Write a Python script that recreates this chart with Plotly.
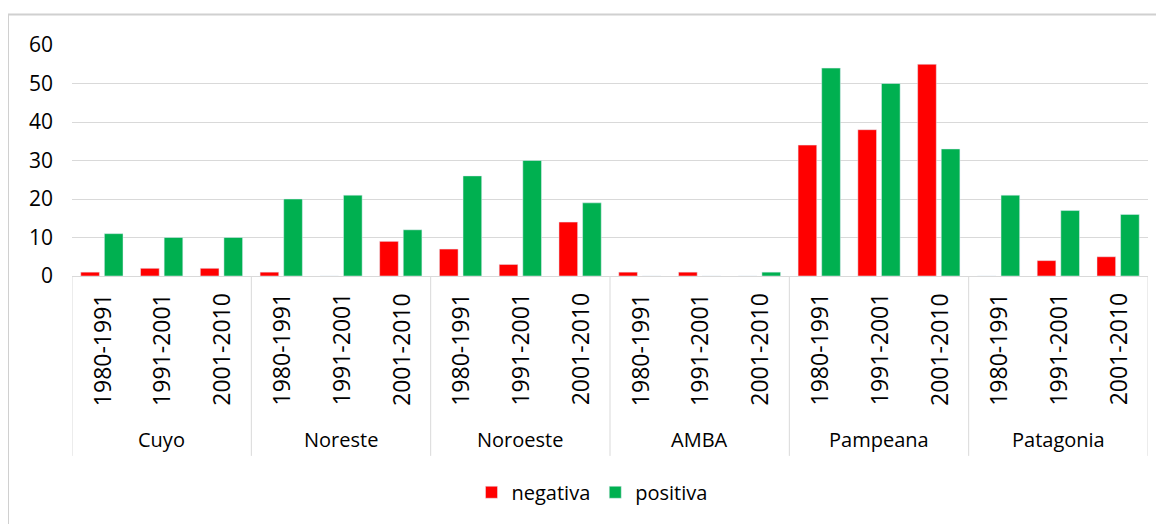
import plotly.graph_objects as go

regions = ["Cuyo", "Noreste", "Noroeste", "AMBA", "Pampeana", "Patagonia"]
periods = ["1980-1991", "1991-2001", "2001-2010"]

negativa = [1, 2, 2, 1, 0, 9, 7, 3, 14, 1, 1, 0, 34, 38, 55, 0, 4, 5]
positiva = [11, 10, 10, 20, 21, 12, 26, 30, 19, 0, 0, 1, 54, 50, 33, 21, 17, 16]

RED = "#FF0000"
GREEN = "#00B050"
GRID = "#D9D9D9"
FONT = "Open Sans"

# page body has an 8px margin, so the figure is drawn 8px smaller and offset
OFF = 8
W, H = 1164 - OFF, 532 - 2 * OFF
L, R, T, B = 72 - OFF, 16, 45 - OFF, H - (280 - OFF)
plot_w = W - L - R
plot_h = H - T - B


def px_x(p):
    # reference pixel -> paper x
    return (p - OFF - L) / plot_w


def px_y(p):
    # reference pixel -> paper y
    return (H - B - (p - OFF)) / plot_h


keys = [f"{r} {p}" for r in regions for p in periods]

fig = go.Figure()
fig.add_trace(go.Bar(x=keys, y=negativa, name="negativa", marker_color=RED))
fig.add_trace(go.Bar(x=keys, y=positiva, name="positiva", marker_color=GREEN))

# rotated period labels
for r in regions:
    for p in periods:
        fig.add_annotation(
            x=f"{r} {p}", xref="x", y=px_y(295), yref="paper",
            text=p, textangle=-90, showarrow=False,
            xanchor="center", yanchor="top",
            font=dict(family=FONT, size=23, color="black"),
        )

# region labels and dividers
n = len(periods)
for i, r in enumerate(regions):
    fig.add_annotation(
        x=i * n + (n - 1) / 2, xref="x", y=px_y(446), yref="paper",
        text=r, showarrow=False, xanchor="center", yanchor="middle",
        font=dict(family=FONT, size=20, color="black"),
    )
for i in range(len(regions) + 1):
    fig.add_shape(
        type="line", xref="x", yref="paper",
        x0=i * n - 0.5, x1=i * n - 0.5, y0=0, y1=px_y(463),
        line=dict(color=GRID, width=1),
    )

# chart frame (left and top edges)
fig.add_shape(
    type="rect", xref="paper", yref="paper",
    x0=px_x(8), x1=px_x(1180), y0=px_y(14), y1=px_y(560),
    line=dict(color="#D0D0D0", width=2), layer="below",
)

fig.update_layout(
    width=W, height=H,
    margin=dict(l=L, r=R, t=T, b=B),
    paper_bgcolor="white", plot_bgcolor="white",
    barmode="group", bargap=0.21, bargroupgap=0.21,
    font=dict(family=FONT, size=20, color="black"),
    legend=dict(
        orientation="h", x=px_x(592), xanchor="center",
        y=px_y(500), yanchor="middle",
        font=dict(family=FONT, size=20, color="black"),
    ),
    xaxis=dict(
        type="category", showticklabels=False, showgrid=False,
        showline=True, linecolor=GRID, linewidth=1,
        range=[-0.5, len(keys) - 0.5],
    ),
    yaxis=dict(
        range=[0, 60], dtick=10, showgrid=True, gridcolor=GRID, gridwidth=1,
        zeroline=False, showline=False, ticklabelstandoff=18,
        tickfont=dict(family=FONT, size=21, color="black"),
    ),
)

fig.write_html("out.html")
